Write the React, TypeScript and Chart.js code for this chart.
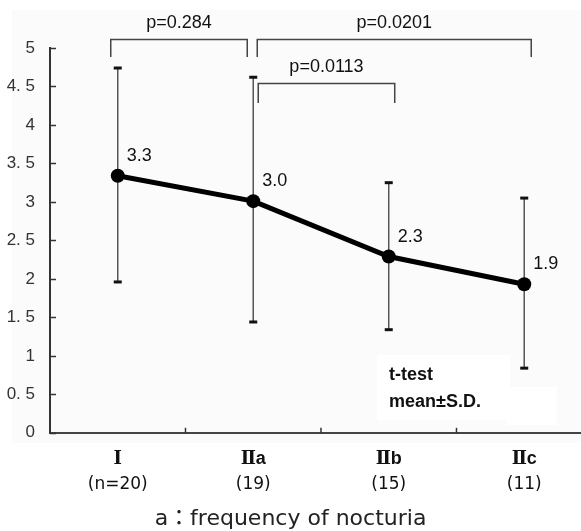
import React, { useEffect, useRef } from "react";
import { Chart, registerables } from "chart.js";

Chart.register(...registerables);

const categories = ["Ⅰ", "Ⅱa", "Ⅱb", "Ⅱc"];
const groupSizes = ["(n=20)", "(19)", "(15)", "(11)"];
const means = [3.34, 3.01, 2.29, 1.93];
const sdUpper = [4.74, 4.62, 3.25, 3.05];
const sdLower = [1.96, 1.44, 1.34, 0.84];
const valueLabels = ["3.3", "3.0", "2.3", "1.9"];
const yTickLabels = ["0", "0. 5", "1", "1. 5", "2", "2. 5", "3", "3. 5", "4", "4. 5", "5"];
const compFrom = [0, 1, 1];
const compTo = [1, 3, 2];
const pValues = ["p=0.284", "p=0.0201", "p=0.0113"];
const noteLines = ["t-test", "mean±S.D."];
const titleText = "a：frequency of nocturia";

const X_MIN = -0.5;
const X_MAX = 3.419;

const setTicks = (scale: any) => {
  scale.ticks = categories.map((_, i) => ({ value: i }));
};

const decorPlugin = {
  id: "decor",
  beforeDraw(chart: any) {
    const { ctx } = chart;
    ctx.save();
    ctx.fillStyle = "#fbfbfb";
    ctx.fillRect(12, 10, chart.width - 12, 433);
    ctx.restore();
  },
  beforeDatasetsDraw(chart: any) {
    const { ctx, chartArea } = chart;
    const xs = chart.scales.x;
    const ys = chart.scales.y;
    ctx.save();
    // white note boxes
    ctx.fillStyle = "#ffffff";
    ctx.fillRect(377, 355, 133, 65);
    ctx.fillRect(507, 387, 50, 38);
    // inside tick marks
    ctx.strokeStyle = "#333";
    ctx.lineWidth = 1.5;
    ys.ticks.forEach((t: any) => {
      const py = Math.round(ys.getPixelForValue(t.value)) + 0.5;
      ctx.beginPath();
      ctx.moveTo(chartArea.left, py);
      ctx.lineTo(chartArea.left + 6, py);
      ctx.stroke();
    });
    for (let i = 0; i < categories.length - 1; i++) {
      const px = xs.getPixelForValue(i + 0.5);
      ctx.beginPath();
      ctx.moveTo(px, chartArea.bottom);
      ctx.lineTo(px, chartArea.bottom - 5);
      ctx.stroke();
    }
    // error bars
    means.forEach((_, i) => {
      const px = xs.getPixelForValue(i);
      const yt = ys.getPixelForValue(sdUpper[i]);
      const yb = ys.getPixelForValue(sdLower[i]);
      ctx.strokeStyle = "#555";
      ctx.lineWidth = 1.5;
      ctx.beginPath();
      ctx.moveTo(px, yt);
      ctx.lineTo(px, yb);
      ctx.stroke();
      ctx.strokeStyle = "#111";
      ctx.lineWidth = 3;
      [yt, yb].forEach((yy) => {
        ctx.beginPath();
        ctx.moveTo(px - 4, yy);
        ctx.lineTo(px + 4, yy);
        ctx.stroke();
      });
    });
    ctx.restore();
  },
  afterDraw(chart: any) {
    const { ctx } = chart;
    const xs = chart.scales.x;
    const ys = chart.scales.y;
    ctx.save();
    // value labels
    ctx.fillStyle = "#111";
    ctx.font = "18px 'Liberation Sans', Arial, sans-serif";
    ctx.textAlign = "left";
    ctx.textBaseline = "middle";
    means.forEach((m, i) => {
      ctx.fillText(valueLabels[i], xs.getPixelForValue(i) + 9, ys.getPixelForValue(m) - 20);
    });
    // significance brackets
    const levels = [
      { top: 5.117, bottom: 4.883, dl: -7, dr: -6 },
      { top: 5.117, bottom: 4.883, dl: 4, dr: 7 },
      { top: 4.544, bottom: 4.284, dl: 5, dr: 6 },
    ];
    ctx.strokeStyle = "#444";
    ctx.lineWidth = 1.5;
    ctx.font = "18px 'Liberation Sans Narrow', 'Liberation Sans', sans-serif";
    ctx.textAlign = "center";
    ctx.textBaseline = "middle";
    pValues.forEach((p, k) => {
      const lv = levels[k];
      const x1 = xs.getPixelForValue(compFrom[k]) + lv.dl;
      const x2 = xs.getPixelForValue(compTo[k]) + lv.dr;
      const yt = Math.round(ys.getPixelForValue(lv.top)) + 0.5;
      const yb = ys.getPixelForValue(lv.bottom);
      ctx.beginPath();
      ctx.moveTo(x1, yb);
      ctx.lineTo(x1, yt);
      ctx.lineTo(x2, yt);
      ctx.lineTo(x2, yb);
      ctx.stroke();
      ctx.fillText(p, (x1 + x2) / 2, yt - 16);
    });
    // note
    ctx.font = "bold 18px 'Liberation Sans', Arial, sans-serif";
    ctx.textAlign = "left";
    ctx.fillStyle = "#111";
    noteLines.forEach((t, i) => {
      ctx.fillText(t, 389, 375 + i * 27);
    });
    ctx.restore();
  },
};

export default function App() {
  const ref = useRef<HTMLCanvasElement>(null);
  useEffect(() => {
    if (!ref.current) return;
    const chart = new Chart(ref.current, {
      type: "line",
      data: {
        datasets: [
          {
            data: means.map((m, i) => ({ x: i, y: m })),
            borderColor: "#000",
            backgroundColor: "#000",
            borderWidth: 5,
            pointRadius: 7,
            pointBackgroundColor: "#000",
            pointBorderColor: "#000",
            pointBorderWidth: 0,
            tension: 0,
            xAxisID: "x",
            yAxisID: "y",
          },
        ],
      },
      options: {
        responsive: true,
        maintainAspectRatio: false,
        animation: false,
        events: [],
        layout: { autoPadding: false, padding: { top: 48, left: 0, right: 0, bottom: 0 } },
        plugins: {
          legend: { display: false },
          tooltip: { enabled: false },
          title: {
            display: true,
            position: "bottom",
            text: titleText,
            color: "#222",
            font: { family: "'DejaVu Sans', 'Noto Sans CJK JP', sans-serif", size: 22, weight: "normal", lineHeight: 1.1 },
            padding: { top: 11, bottom: 0 },
          },
        },
        scales: {
          x: {
            type: "linear",
            position: "bottom",
            min: X_MIN,
            max: X_MAX,
            weight: 0,
            afterBuildTicks: setTicks,
            afterFit: (scale: any) => {
              scale.height = 37;
              scale.paddingLeft = 0;
              scale.paddingRight = 0;
            },
            grid: { display: false, drawTicks: false },
            border: { display: true, color: "#444", width: 2 },
            ticks: {
              autoSkip: false,
              maxRotation: 0,
              padding: 15,
              color: "#111",
              font: { family: "'Liberation Sans', 'DejaVu Serif', 'Noto Sans CJK JP', sans-serif", size: 18, weight: "bold" },
              callback: (_v: any, i: number) => categories[i],
            },
          },
          x2: {
            type: "linear",
            position: "bottom",
            min: X_MIN,
            max: X_MAX,
            weight: 1,
            afterBuildTicks: setTicks,
            afterFit: (scale: any) => {
              scale.height = 26;
              scale.paddingLeft = 0;
              scale.paddingRight = 0;
            },
            grid: { display: false, drawTicks: false },
            border: { display: false },
            ticks: {
              autoSkip: false,
              maxRotation: 0,
              padding: 5,
              color: "#111",
              font: { family: "'DejaVu Sans', sans-serif", size: 17 },
              callback: (_v: any, i: number) => groupSizes[i],
            },
          },
          y: {
            type: "linear",
            min: 0,
            max: 5,
            afterFit: (scale: any) => {
              scale.width = 50;
              scale.paddingTop = 0;
              scale.paddingBottom = 0;
            },
            grid: { display: false, drawTicks: false },
            border: { display: true, color: "#333", width: 2 },
            ticks: {
              stepSize: 0.5,
              padding: 15,
              color: "#333",
              font: { family: "'Liberation Sans Narrow', 'Liberation Sans', sans-serif", size: 17 },
              callback: (_v: any, i: number) => yTickLabels[i],
            },
          },
        },
      },
      plugins: [decorPlugin],
    });
    return () => chart.destroy();
  }, []);
  return (
    <div style={{ position: "fixed", left: 0, top: 0, width: 581, height: 531, background: "#fff" }}>
      <canvas ref={ref} />
    </div>
  );
}
